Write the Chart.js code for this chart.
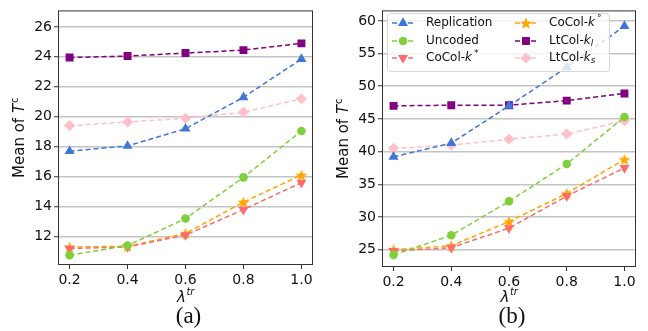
<!DOCTYPE html>
<html>
<head>
<meta charset="utf-8">
<script src="https://cdn.jsdelivr.net/npm/chart.js@4.4.0/dist/chart.umd.min.js"></script>
<style>
  body { margin: 0; background: #fff; }
  #wrap { position: relative; width: 648px; height: 331px; }
  .box { position: absolute; top: 0; width: 324px; height: 331px; }
</style>
</head>
<body>
<div id="wrap">
  <div class="box" style="left:0"><canvas id="chartA"></canvas></div>
  <div class="box" style="left:324px"><canvas id="chartB"></canvas></div>
</div>
<script>
// lambda^tr values
const lambdas = [0.2, 0.4, 0.6, 0.8, 1.0];
const seriesNames = ['Replication', 'Uncoded', 'CoCol-k*', 'CoCol-k°', 'LtCol-kl', 'LtCol-ks'];

// (a)
const replicationA = [17.7, 18.05, 19.2, 21.3, 23.85];
const uncodedA     = [10.75, 11.4, 13.2, 15.95, 19.05];
const cocolStarA   = [11.2, 11.3, 12.1, 13.8, 15.6];
const cocolCircA   = [11.3, 11.35, 12.2, 14.3, 16.1];
const ltcolLA      = [23.95, 24.05, 24.25, 24.45, 24.9];
const ltcolSA      = [19.4, 19.65, 19.9, 20.3, 21.2];

// (b)
const replicationB = [39.2, 41.3, 47.0, 52.9, 59.2];
const uncodedB     = [24.2, 27.2, 32.4, 38.1, 45.3];
const cocolStarB   = [24.8, 25.3, 28.3, 33.2, 37.5];
const cocolCircB   = [25.0, 25.6, 29.3, 33.6, 38.8];
const ltcolLB      = [47.0, 47.1, 47.1, 47.8, 48.9];
const ltcolSB      = [40.5, 41.0, 41.9, 42.7, 44.7];

const yTicksA = [12, 14, 16, 18, 20, 22, 24, 26];
const yTicksB = [25, 30, 35, 40, 45, 50, 55, 60];

// star marker (5 points, filled)
function makeStar(color) {
  const c = document.createElement('canvas');
  c.width = 14; c.height = 14;
  const g = c.getContext('2d');
  g.fillStyle = color;
  g.beginPath();
  for (let i = 0; i < 10; i++) {
    const r = i % 2 === 0 ? 6.3 : 2.7;
    const a = -Math.PI / 2 + i * Math.PI / 5;
    const px = 7 + r * Math.cos(a), py = 7.6 + r * Math.sin(a);
    if (i === 0) g.moveTo(px, py); else g.lineTo(px, py);
  }
  g.closePath();
  g.fill();
  return c;
}
const starImg = makeStar('#ffa500');

const styles = [
  { color: '#3f76d8', pointStyle: 'triangle', radius: 5.8, rotation: 0 },
  { color: '#7fd03a', pointStyle: 'circle', radius: 4.3, rotation: 0 },
  { color: '#ff6b6b', pointStyle: 'triangle', radius: 5.8, rotation: 180 },
  { color: '#ffa500', pointStyle: starImg, radius: 6, rotation: 0 },
  { color: '#800080', pointStyle: 'rect', radius: 5.6, rotation: 0 },
  { color: '#ffc0cb', pointStyle: 'rectRot', radius: 5.6, rotation: 0 }
];

function makeDatasets(list) {
  return list.map((vals, i) => ({
    label: seriesNames[i],
    data: vals.map((v, j) => ({ x: lambdas[j], y: v })),
    borderColor: styles[i].color,
    backgroundColor: styles[i].color,
    borderWidth: 1.5,
    borderDash: [5, 3],
    pointStyle: styles[i].pointStyle,
    pointRadius: styles[i].radius,
    pointRotation: styles[i].rotation,
    pointBorderWidth: 0,
    pointHoverRadius: styles[i].radius
  }));
}

// y title, x title, caption and full frame
const decorPlugin = {
  id: 'decor',
  afterDraw(chart, args, opts) {
    const ctx = chart.ctx, a = chart.chartArea;
    ctx.save();
    ctx.strokeStyle = '#333';
    ctx.lineWidth = 1;
    ctx.strokeRect(a.left + 0.5, a.top + 0.5, a.right - a.left - 1, a.bottom - a.top - 1);

    // y title: Mean of T^c
    ctx.fillStyle = '#111';
    ctx.translate(20, (a.top + a.bottom) / 2);
    ctx.rotate(-Math.PI / 2);
    ctx.textBaseline = 'middle';
    const f1 = '15px "DejaVu Sans"', f2 = 'italic 15px "DejaVu Sans"', f3 = '10px "DejaVu Sans"';
    ctx.font = f1; const w1 = ctx.measureText('Mean of ').width;
    ctx.font = f2; const w2 = ctx.measureText('T').width;
    ctx.font = f3; const w3 = ctx.measureText('c').width;
    let x0 = -(w1 + w2 + w3 + 1) / 2;
    ctx.textAlign = 'left';
    ctx.font = f1; ctx.fillText('Mean of ', x0, 0);
    ctx.font = f2; ctx.fillText('T', x0 + w1, 0);
    ctx.font = f3; ctx.fillText('c', x0 + w1 + w2 + 1, -5);
    ctx.restore();

    // x title: lambda^tr
    ctx.save();
    ctx.fillStyle = '#111';
    ctx.textBaseline = 'middle';
    const cx = (a.left + a.right) / 2;
    ctx.font = 'italic 15px "DejaVu Sans"';
    const lw = ctx.measureText('λ').width;
    ctx.font = 'italic 10px "DejaVu Sans"';
    const sw = ctx.measureText('tr').width;
    let lx = cx - (lw + sw) / 2;
    ctx.textAlign = 'left';
    ctx.font = 'italic 15px "DejaVu Sans"';
    ctx.fillText('λ', lx, 298);
    ctx.font = 'italic 10px "DejaVu Sans"';
    ctx.fillText('tr', lx + lw + 0.5, 292);

    // caption
    ctx.font = '23px "Liberation Serif"';
    ctx.textAlign = 'center';
    ctx.fillText(opts.caption, cx + 3, 317);
    ctx.restore();
  }
};

// legend drawn inside the plot of (b), two columns
const legendPlugin = {
  id: 'innerLegend',
  afterDatasetsDraw(chart, args, opts) {
    if (!opts.show) return;
    const ctx = chart.ctx;
    ctx.save();
    const bx = 387, by = 13, bw = 222, bh = 58, r = 3;
    const ox = chart.canvas.getBoundingClientRect().left - document.getElementById('wrap').getBoundingClientRect().left;
    ctx.translate(-ox, 0);
    ctx.beginPath();
    ctx.roundRect(bx + 0.5, by + 0.5, bw, bh, r);
    ctx.fillStyle = 'rgba(255,255,255,0.8)';
    ctx.fill();
    ctx.strokeStyle = '#d6d6d6';
    ctx.lineWidth = 1;
    ctx.stroke();

    const cols = [{ lx: 392, tx: 426 }, { lx: 515, tx: 549 }];
    const rows = [23, 41, 58];
    const labels = [
      [['Replication']], [['Uncoded']], [['CoCol-', 'n'], ['k', 'i'], ['*', 's']],
      [['CoCol-', 'n'], ['k', 'i'], ['°', 's']], [['LtCol-', 'n'], ['k', 'i'], ['l', 'sub']],
      [['LtCol-', 'n'], ['k', 'i'], ['s', 'sub']]
    ];
    chart.data.datasets.forEach((ds, i) => {
      const c = cols[Math.floor(i / 3)], y = rows[i % 3];
      ctx.strokeStyle = ds.borderColor;
      ctx.lineWidth = 1.5;
      ctx.setLineDash([5, 3]);
      ctx.beginPath();
      ctx.moveTo(c.lx, y); ctx.lineTo(c.lx + 22, y);
      ctx.stroke();
      ctx.setLineDash([]);
      ctx.fillStyle = ds.backgroundColor;
      Chart.helpers.drawPoint(ctx, {
        pointStyle: ds.pointStyle, radius: ds.pointRadius, rotation: ds.pointRotation, borderWidth: 0
      }, c.lx + 11, y);

      ctx.fillStyle = '#111';
      ctx.textBaseline = 'middle';
      ctx.textAlign = 'left';
      let x = c.tx;
      const parts = labels[i].length === 1 ? [[labels[i][0][0], 'n']] : labels[i];
      parts.forEach(([t, k]) => {
        let dy = 0;
        if (k === 'n') ctx.font = '12px "DejaVu Sans"';
        else if (k === 'i') ctx.font = 'italic 12px "DejaVu Sans"';
        else if (k === 's') { ctx.font = '9px "DejaVu Sans"'; dy = -4; x += 2; }
        else { ctx.font = 'italic 9px "DejaVu Sans"'; dy = 3; }
        ctx.fillText(t, x, y + dy);
        x += ctx.measureText(t).width;
      });
    });
    ctx.restore();
  }
};

function makeChart(id, datasets, yMin, yMax, yTicks, pad, xHeight, caption, showLegend) {
  return new Chart(document.getElementById(id), {
    type: 'line',
    data: { datasets: makeDatasets(datasets) },
    options: {
      responsive: true,
      maintainAspectRatio: false,
      animation: false,
      layout: { padding: pad },
      plugins: {
        legend: { display: false },
        tooltip: { enabled: false },
        decor: { caption: caption },
        innerLegend: { show: showLegend }
      },
      scales: {
        x: {
          type: 'linear',
          min: 0.16,
          max: 1.04,
          afterBuildTicks: s => { s.ticks = lambdas.map(v => ({ value: v })); },
          afterFit: s => { s.height = xHeight; },
          ticks: {
            callback: v => v.toFixed(1),
            color: '#111',
            font: { family: 'DejaVu Sans', size: 14 },
            padding: 3,
            maxRotation: 0
          },
          grid: { drawOnChartArea: false, drawTicks: true, tickLength: 4, color: '#333' },
          border: { display: false }
        },
        y: {
          min: yMin,
          max: yMax,
          afterBuildTicks: s => { s.ticks = yTicks.map(v => ({ value: v })); },
          afterFit: s => { s.width = 58; },
          ticks: {
            color: '#111',
            font: { family: 'DejaVu Sans', size: 14 },
            padding: 2
          },
          grid: { color: '#c4c4c4', lineWidth: 1.5, tickLength: 4, tickColor: '#333', tickWidth: 1 },
          border: { display: false }
        }
      }
    },
    plugins: [decorPlugin, legendPlugin]
  });
}

makeChart('chartA', [replicationA, uncodedA, cocolStarA, cocolCircA, ltcolLA, ltcolSA],
  10.1, 27.1, yTicksA, { left: 0, right: 11, top: 7, bottom: 0 }, 66, '(a)', false);
makeChart('chartB', [replicationB, uncodedB, cocolStarB, cocolCircB, ltcolLB, ltcolSB],
  22.35, 61.6, yTicksB, { left: 0, right: 12, top: 4, bottom: 0 }, 64, '(b)', true);
</script>
</body>
</html>
